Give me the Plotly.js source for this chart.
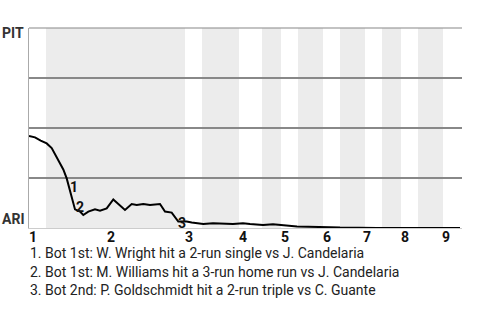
<!DOCTYPE html>
<html>
<head>
<meta charset="utf-8">
<script src="https://cdn.plot.ly/plotly-3.0.1.min.js"></script>
<style>html,body{margin:0;padding:0;background:#fff;}#chart{width:480px;height:320px;}</style>
</head>
<body>
<div id="chart"></div>
<script>
// game progress (x) and PIT win probability (y)
var progress = [0, 6, 11.7, 17.7, 22.7, 29.3, 34.3, 37.7, 40.3, 42.7, 46, 51, 54.3, 59.3, 66, 71, 77.7, 84.3, 96, 102.7, 107.7, 114.3, 121, 131, 136, 142.7, 149.3, 157.7, 162.7, 174.3, 184, 204, 214, 221, 234, 244, 254, 268, 301, 311, 348, 431];
var pitWinProb = [0.46, 0.453, 0.437, 0.423, 0.40, 0.34, 0.293, 0.248, 0.198, 0.148, 0.093, 0.082, 0.065, 0.082, 0.093, 0.087, 0.098, 0.143, 0.09, 0.12, 0.115, 0.12, 0.115, 0.12, 0.082, 0.077, 0.032, 0.032, 0.027, 0.02, 0.024, 0.02, 0.024, 0.02, 0.015, 0.019, 0.015, 0.007, 0.004, 0.002, 0, 0];
// bottom-half inning bands (start, end)
var botStart = [17, 78, 173, 233, 269, 311, 353, 389];
var botEnd = [78, 156, 210, 252, 294, 336, 372, 414];
// inning tick positions and labels
var inningTicks = [4, 82, 160, 214, 256, 298, 338, 376, 417];
var inningLabels = ['1', '2', '3', '4', '5', '6', '7', '8', '9'];
// key events
var eventX = [45.3, 51, 153.3];
var eventY = [0.207, 0.107, 0.023];
var eventLabels = ['1', '2', '3'];
var eventTexts = [
  '1. Bot 1st: W. Wright hit a 2-run single vs J. Candelaria',
  '2. Bot 1st: M. Williams hit a 3-run home run vs J. Candelaria',
  '3. Bot 2nd: P. Goldschmidt hit a 2-run triple vs C. Guante'
];
var teamTop = 'PIT', teamBottom = 'ARI';

var shapes = [];
for (var i = 0; i < botStart.length; i++) {
  shapes.push({type: 'rect', xref: 'x', yref: 'paper', x0: botStart[i], x1: botEnd[i], y0: 0, y1: 1,
    fillcolor: '#ececec', line: {width: 0}, layer: 'below'});
}
shapes.push({type: 'line', xref: 'paper', yref: 'paper', x0: 0, x1: 1, y0: 1, y1: 1,
  line: {color: '#888', width: 1.2}, layer: 'below'});

var annotations = [];
for (var j = 0; j < eventX.length; j++) {
  annotations.push({x: eventX[j], y: eventY[j], xref: 'x', yref: 'y', text: '<b>' + eventLabels[j] + '</b>',
    showarrow: false, font: {family: 'Roboto', size: 14, color: '#111'}});
}
for (var t = 0; t < inningTicks.length; t++) {
  annotations.push({x: inningTicks[t], y: 0, xref: 'x', yref: 'paper', yanchor: 'middle', yshift: -9,
    text: '<b>' + inningLabels[t] + '</b>', showarrow: false, font: {family: 'Roboto', size: 14, color: '#111'}});
}
annotations.push({x: -0.008, y: 1.0, xref: 'paper', yref: 'paper', xanchor: 'right', yanchor: 'middle', yshift: -5,
  text: '<b>' + teamTop + '</b>', showarrow: false, font: {family: 'Roboto', size: 14, color: '#333'}});
annotations.push({x: -0.008, y: 0.0, xref: 'paper', yref: 'paper', xanchor: 'right', yanchor: 'middle', yshift: 9,
  text: '<b>' + teamBottom + '</b>', showarrow: false, font: {family: 'Roboto', size: 14, color: '#333'}});
for (var k = 0; k < eventTexts.length; k++) {
  annotations.push({x: 0, y: (228 - (253 + k * 18.5)) / 200, xref: 'paper', yref: 'paper', xanchor: 'left', yanchor: 'middle',
    xshift: -1, text: eventTexts[k], showarrow: false, font: {family: 'Roboto', size: 14, color: '#222'}});
}

var trace = {x: progress, y: pitWinProb, type: 'scatter', mode: 'lines',
  line: {color: '#000', width: 2}, hoverinfo: 'none'};

var layout = {
  width: 480, height: 320,
  margin: {l: 29, r: 18, t: 28, b: 92},
  paper_bgcolor: '#fff', plot_bgcolor: '#fff',
  showlegend: false,
  xaxis: {range: [0, 433], showticklabels: false,
    showgrid: false, zeroline: false, showline: true, linecolor: '#ccc', linewidth: 1,
    ticks: '', fixedrange: true},
  yaxis: {range: [0, 1], tickvals: [0.25, 0.5, 0.75], showticklabels: false, showgrid: true,
    gridcolor: '#888', gridwidth: 1.2, zeroline: false, showline: true, linecolor: '#aaa', linewidth: 1,
    ticks: '', fixedrange: true},
  shapes: shapes,
  annotations: annotations
};

Plotly.newPlot('chart', [trace], layout, {displayModeBar: false, staticPlot: true});
</script>
</body>
</html>
